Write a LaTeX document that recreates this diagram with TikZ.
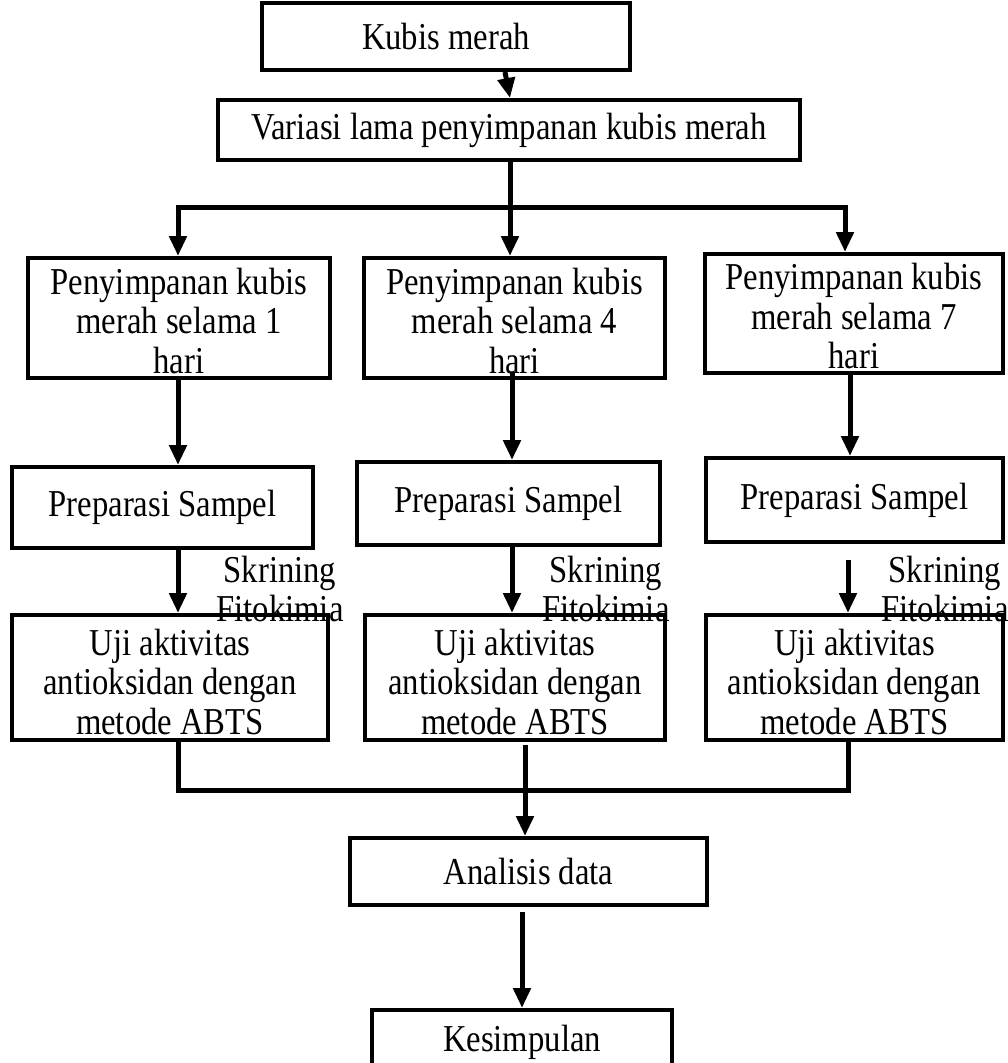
\documentclass[tikz,border=0pt]{standalone}
\usepackage{fontspec}
\setmainfont{Liberation Serif}[FakeStretch=0.86]
\usetikzlibrary{arrows.meta}
\newcommand\toppad[1]{\rule{0pt}{#1}}
\begin{document}
\begin{tikzpicture}[x=1pt,y=-1pt,
  box/.style={draw,line width=4pt,inner sep=0pt,align=center,font=\fontsize{38}{39.5}\selectfont},
  conn/.style={line width=5pt,line cap=rect},
  arr/.style={line width=5pt,-{Triangle[width=17pt,length=20pt]}},
  lbl/.style={align=center,inner sep=0pt,font=\fontsize{38}{39.5}\selectfont}]
\useasboundingbox (0,0) rectangle (1007,1063);
% boxes
\node[box,minimum width=368pt,minimum height=67pt] (kubis) at (446,36.5) {Kubis merah};
\node[box,minimum width=582pt,minimum height=60pt] (variasi) at (509,130) {Variasi lama penyimpanan kubis merah};
\node[box,minimum width=302pt,minimum height=120pt] (p1) at (179,318) {\toppad{32pt}Penyimpanan kubis\\merah selama 1\\hari};
\node[box,minimum width=301pt,minimum height=120pt] (p4) at (514.5,318) {\toppad{32pt}Penyimpanan kubis\\merah selama 4\\hari};
\node[box,minimum width=298pt,minimum height=119pt] (p7) at (854,313.5) {\toppad{32pt}Penyimpanan kubis\\merah selama 7\\hari};
\node[box,minimum width=301pt,minimum height=81pt] (s1) at (162.5,507.5) {Preparasi Sampel};
\node[box,minimum width=303pt,minimum height=83pt] (s4) at (508.5,503.5) {Preparasi Sampel};
\node[box,minimum width=297pt,minimum height=84pt] (s7) at (854.5,500) {Preparasi Sampel};
\node[box,minimum width=316pt,minimum height=125pt] (u1) at (170,677.5) {\toppad{35pt}Uji aktivitas\\antioksidan dengan\\metode ABTS};
\node[box,minimum width=300pt,minimum height=125pt] (u4) at (515,677.5) {\toppad{35pt}Uji aktivitas\\antioksidan dengan\\metode ABTS};
\node[box,minimum width=297pt,minimum height=125pt] (u7) at (854.5,677.5) {\toppad{35pt}Uji aktivitas\\antioksidan dengan\\metode ABTS};
\node[box,minimum width=357pt,minimum height=67pt] (analisis) at (528.5,871.5) {Analisis data};
\node[box,minimum width=300pt,minimum height=64pt] (kes) at (522,1042) {Kesimpulan};
% labels
\node[lbl] (sk1) at (280,589) {Skrining\\Fitokimia};
\node[lbl] (sk4) at (606,589) {Skrining\\Fitokimia};
\node[lbl] (sk7) at (945,589) {Skrining\\Fitokimia};
% connectors
\draw[arr] (kubis.south -| 505,0) -- (variasi.north -| 510,0);
\coordinate (bl) at (178,207);
\coordinate (br) at (845,207);
\draw[conn] (bl) -- (br);
\draw[arr] (bl) -- (p1.north -| bl);
\draw[arr] (br) -- (p7.north -| br);
\draw[arr] (variasi.south -| 510,0) -- (p4.north -| 510,0);
\draw[arr] (p1.south -| 178,0) -- (s1.north -| 178,0);
\draw[arr] (512,372) -- (s4.north -| 512,0);
\draw[arr] (p7.south -| 850,0) -- (s7.north -| 850,0);
\draw[arr] (s1.south -| 178,0) -- (u1.north -| 178,0);
\draw[arr] (s4.south -| 512,0) -- (u4.north -| 512,0);
\draw[arr] (848,560) -- (u7.north -| 848,0);
\coordinate (ml) at (178,790);
\coordinate (mr) at (848,790);
\draw[conn] (u1.south -| ml) -- (ml) -- (mr) -- (u7.south -| mr);
\draw[arr] (525,745) -- (analisis.north -| 525,0);
\draw[arr] (522,912) -- (kes.north -| 522,0);
\end{tikzpicture}
\end{document}
